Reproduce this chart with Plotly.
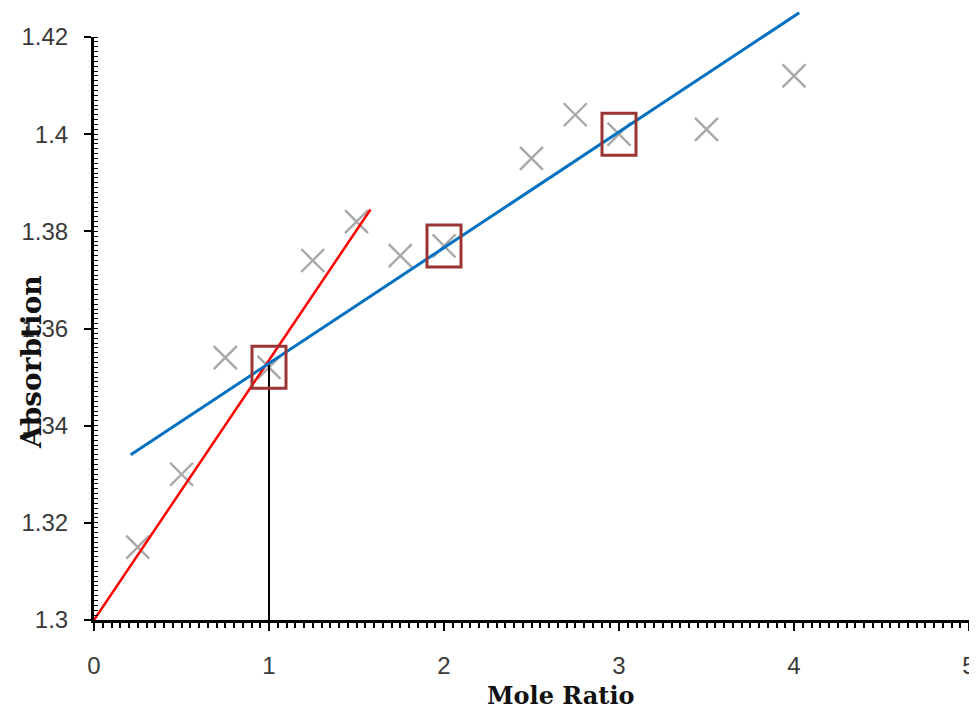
import plotly.graph_objects as go

# Data
mole_ratio = [0.25, 0.5, 0.75, 1.0, 1.25, 1.5, 1.75, 2.0, 2.5, 2.75, 3.0, 3.5, 4.0]
absorbtion = [1.315, 1.330, 1.354, 1.352, 1.374, 1.382, 1.375, 1.377, 1.395, 1.404, 1.400, 1.401, 1.412]

boxed_x = [1.0, 2.0, 3.0]
boxed_y = [1.352, 1.377, 1.400]

blue_x = [0.21, 4.03]
blue_y = [1.334, 1.425]

red_x = [0.0, 1.58]
red_y = [1.300, 1.3845]

drop_x = [1.0, 1.0]
drop_y = [1.300, 1.3528]

x_ticks = [0, 1, 2, 3, 4, 5]
x_labels = ["0", "1", "2", "3", "4", "5"]
y_ticks = [1.30, 1.32, 1.34, 1.36, 1.38, 1.40, 1.42]
y_labels = ["1.3", "1.32", "1.34", "1.36", "1.38", "1.4", "1.42"]

Y_MIN, Y_MAX = 1.3, 1.42

# page geometry (pixels); the html body adds an 8px offset
OFF = 8
W, H = 977 - OFF, 712 - OFF
X0_PX, X5_PX = 94, 969          # page columns of x = 0 and x = 5
Y_TOP_PX, Y_BOT_PX = 37, 620    # page rows of y = 1.42 and y = 1.3
M_L = X0_PX - OFF
M_R = (977 - OFF) - (X5_PX - OFF)
M_B = (712 - OFF) - (Y_BOT_PX - OFF)
M_T = 2
plot_w = W - M_L - M_R
plot_h = H - M_T - M_B
main_h = Y_BOT_PX - Y_TOP_PX
main_frac = main_h / plot_h
y2_max = Y_MIN + (Y_MAX - Y_MIN) / main_frac

fig = go.Figure()

fig.add_trace(go.Scatter(
    x=mole_ratio, y=absorbtion, mode="markers",
    marker=dict(symbol="x-thin-open", size=23, color="#a8a8a8",
                line=dict(width=2.4, color="#a8a8a8")),
    showlegend=False, cliponaxis=False))

fig.add_trace(go.Scatter(x=red_x, y=red_y, mode="lines",
                         line=dict(color="#FF0000", width=2.5),
                         showlegend=False))
fig.add_trace(go.Scatter(x=drop_x, y=drop_y, mode="lines",
                         line=dict(color="#000000", width=2),
                         showlegend=False))
# blue line on an invisible taller axis so it can run above the y-axis top
fig.add_trace(go.Scatter(x=blue_x, y=blue_y, mode="lines", yaxis="y2",
                         line=dict(color="#0070C0", width=3),
                         showlegend=False))

for bx, by in zip(boxed_x, boxed_y):
    fig.add_shape(type="rect", xref="x", yref="y",
                  xsizemode="pixel", ysizemode="pixel",
                  xanchor=bx, yanchor=by,
                  x0=-17, x1=17, y0=-21, y1=21,
                  line=dict(color="#9B3434", width=3), layer="above")

tick_font = dict(size=24, family="Liberation Sans", color="#3a3a3a")

fig.update_layout(
    width=W, height=H,
    margin=dict(l=M_L, r=M_R, t=M_T, b=M_B, autoexpand=False),
    paper_bgcolor="white", plot_bgcolor="rgba(0,0,0,0)",
    font=dict(family="Liberation Sans", color="#333333"),
    xaxis=dict(
        range=[0, 5], tickvals=x_ticks, ticktext=x_labels,
        showgrid=False, zeroline=False, automargin=False,
        showline=True, linecolor="black", linewidth=3,
        ticks="outside", ticklen=8, tickwidth=2, tickcolor="black",
        ticklabelstandoff=14, tickfont=tick_font,
        minor=dict(dtick=0.05, tick0=0, ticks="outside", ticklen=5,
                   tickwidth=1.5, tickcolor="black", showgrid=False),
    ),
    yaxis=dict(
        domain=[0, main_frac],
        range=[Y_MIN, Y_MAX], tickvals=y_ticks, ticktext=y_labels,
        showgrid=False, zeroline=False, automargin=False,
        showline=True, linecolor="black", linewidth=3,
        ticks="outside", ticklen=7, tickwidth=2, tickcolor="black",
        ticklabelstandoff=11, tickfont=tick_font,
        minor=dict(dtick=0.001, tick0=Y_MIN, ticks="inside", ticklen=4,
                   tickwidth=1.2, tickcolor="black", showgrid=False),
    ),
    yaxis2=dict(
        domain=[0, 1], range=[Y_MIN, y2_max], anchor="x",
        visible=False, showgrid=False, zeroline=False,
    ),
)

def px_to_paper_x(px):
    return (px - X0_PX) / plot_w

def px_to_paper_y(py):
    return (Y_BOT_PX - py) / plot_h

fig.add_annotation(text="<b>Mole Ratio</b>", xref="paper", yref="paper",
                   x=px_to_paper_x(561), y=px_to_paper_y(695),
                   showarrow=False, xanchor="center", yanchor="middle",
                   font=dict(size=24, family="DejaVu Serif", color="#111111"))
fig.add_annotation(text="<b>Absorbtion</b>", xref="paper", yref="paper",
                   x=px_to_paper_x(32), y=px_to_paper_y(362),
                   showarrow=False, xanchor="center", yanchor="middle",
                   textangle=-90,
                   font=dict(size=28, family="DejaVu Serif", color="#111111"))

fig.write_html("out.html")
